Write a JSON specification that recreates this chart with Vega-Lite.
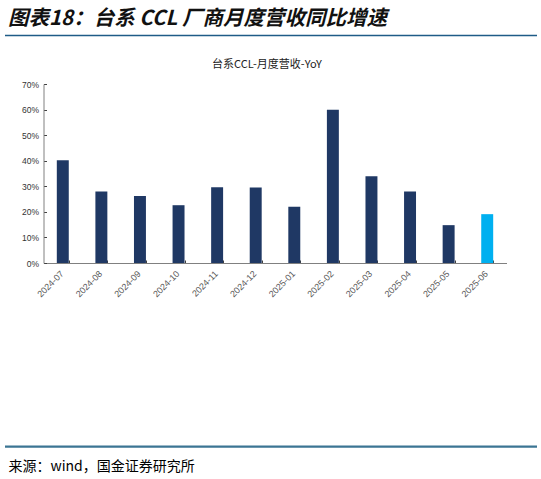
{
  "$schema": "https://vega.github.io/schema/vega-lite/v6.json",
  "autosize": {"type": "none"},
  "width": 532,
  "height": 179,
  "padding": {"left": 5, "top": 84, "right": 4, "bottom": 216},
  "background": "white",
  "title": {
    "text": "图表18：台系 CCL 厂商月度营收同比增速",
    "anchor": "start",
    "frame": "group",
    "offset": 5,
    "dx": 3,
    "font": "Noto Sans CJK SC",
    "fontSize": 20.5,
    "fontWeight": "bold",
    "fontStyle": "italic",
    "color": "#111111"
  },
  "config": {"view": {"stroke": null}},
  "data": {
    "values": [
      {"month": "2024-07", "yoy": 0.402},
      {"month": "2024-08", "yoy": 0.280},
      {"month": "2024-09", "yoy": 0.262},
      {"month": "2024-10", "yoy": 0.226},
      {"month": "2024-11", "yoy": 0.296},
      {"month": "2024-12", "yoy": 0.295},
      {"month": "2025-01", "yoy": 0.220},
      {"month": "2025-02", "yoy": 0.599},
      {"month": "2025-03", "yoy": 0.339},
      {"month": "2025-04", "yoy": 0.280},
      {"month": "2025-05", "yoy": 0.148},
      {"month": "2025-06", "yoy": 0.191}
    ]
  },
  "layer": [
    {
      "mark": {"type": "bar"},
      "encoding": {
        "x": {
          "field": "month",
          "type": "nominal",
          "sort": null,
          "scale": {"range": [38.5, 501.5], "paddingInner": 0.69, "paddingOuter": 0.345},
          "axis": {
            "title": "来源：wind，国金证券研究所",
            "titleX": 3,
            "titleY": 203,
            "titleAnchor": "start",
            "titleAlign": "left",
            "titleBaseline": "middle",
            "titleFont": "Noto Sans CJK SC",
            "titleFontSize": 14,
            "titleFontWeight": "normal",
            "titleColor": "#000000",
            "labelAngle": -45,
            "labelAlign": "right",
            "labelBaseline": "top",
            "labelFont": "Liberation Sans",
            "labelFontSize": 9,
            "labelColor": "#595959",
            "labelPadding": 9,
            "labelOffset": -4,
            "labelOverlap": false,
            "tickBand": "extent",
            "tickSize": -3,
            "tickColor": "#404040",
            "domainColor": "#808080"
          }
        },
        "y": {
          "field": "yoy",
          "type": "quantitative",
          "scale": {"domain": [0, 0.7]},
          "axis": {
            "title": null,
            "offset": -38.5,
            "values": [0, 0.1, 0.2, 0.3, 0.4, 0.5, 0.6, 0.7],
            "format": ".0%",
            "grid": false,
            "tickSize": -3,
            "tickColor": "#404040",
            "domainColor": "#808080",
            "labelFont": "Liberation Sans",
            "labelFontSize": 8.5,
            "labelColor": "#333333",
            "labelPadding": 8,
            "labelOverlap": false,
            "labelFlush": false
          }
        },
        "color": {
          "condition": {"test": "datum.month === '2025-06'", "value": "#00B0F0"},
          "value": "#1F3864"
        }
      }
    },
    {
      "data": {"values": [{}]},
      "mark": {"type": "rule", "color": "#1F5C87", "strokeWidth": 1.3},
      "encoding": {
        "y": {
          "datum": 0.8897,
          "type": "quantitative",
          "axis": {
            "title": null,
            "offset": -38.5,
            "values": [0, 0.1, 0.2, 0.3, 0.4, 0.5, 0.6, 0.7],
            "format": ".0%",
            "grid": false,
            "tickSize": -3,
            "tickColor": "#404040",
            "domainColor": "#808080",
            "labelFont": "Liberation Sans",
            "labelFontSize": 8.5,
            "labelColor": "#333333",
            "labelPadding": 8,
            "labelOverlap": false,
            "labelFlush": false
          }
        }
      }
    },
    {
      "data": {"values": [{}]},
      "mark": {"type": "rule", "color": "#3B7593", "strokeWidth": 2.2},
      "encoding": {
        "y": {
          "datum": -0.7184,
          "type": "quantitative",
          "axis": {
            "title": null,
            "offset": -38.5,
            "values": [0, 0.1, 0.2, 0.3, 0.4, 0.5, 0.6, 0.7],
            "format": ".0%",
            "grid": false,
            "tickSize": -3,
            "tickColor": "#404040",
            "domainColor": "#808080",
            "labelFont": "Liberation Sans",
            "labelFontSize": 8.5,
            "labelColor": "#333333",
            "labelPadding": 8,
            "labelOverlap": false,
            "labelFlush": false
          }
        }
      }
    },
    {
      "data": {"values": [{}]},
      "mark": {
        "type": "text",
        "text": "台系CCL-月度营收-YoY",
        "font": "Noto Sans CJK SC",
        "fontSize": 11,
        "color": "#222222",
        "baseline": "middle",
        "dx": -4
      },
      "encoding": {
        "y": {
          "datum": 0.7743,
          "type": "quantitative",
          "axis": {
            "title": null,
            "offset": -38.5,
            "values": [0, 0.1, 0.2, 0.3, 0.4, 0.5, 0.6, 0.7],
            "format": ".0%",
            "grid": false,
            "tickSize": -3,
            "tickColor": "#404040",
            "domainColor": "#808080",
            "labelFont": "Liberation Sans",
            "labelFontSize": 8.5,
            "labelColor": "#333333",
            "labelPadding": 8,
            "labelOverlap": false,
            "labelFlush": false
          }
        }
      }
    }
  ]
}
